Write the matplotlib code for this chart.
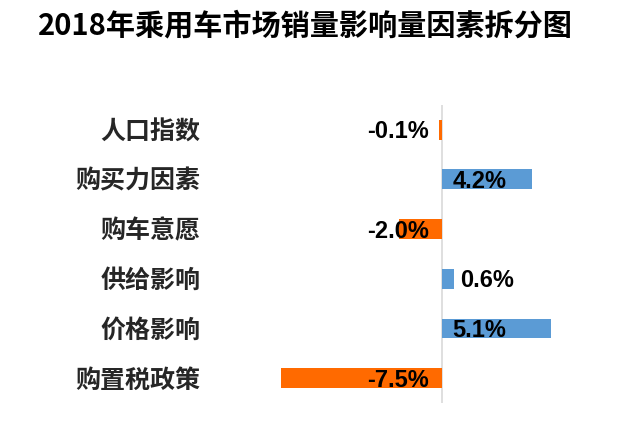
import matplotlib
matplotlib.use("Agg")
import matplotlib.pyplot as plt

plt.rcParams['font.family'] = ['Noto Sans CJK SC', 'DejaVu Sans']

title = "2018年乘用车市场销量影响量因素拆分图"
factors = ["人口指数", "购买力因素", "购车意愿", "供给影响", "价格影响", "购置税政策"]
impact = [-0.1, 4.2, -2.0, 0.6, 5.1, -7.5]

ORANGE = "#FF6A00"
BLUE = "#5B9BD5"

fig = plt.figure(figsize=(6.4, 4.26), dpi=100, facecolor="white")
ax = fig.add_axes([0.422, 0.054, 0.536, 0.70])

ypos = list(range(len(factors)))
colors = [BLUE if v > 0 else ORANGE for v in impact]
ax.barh(ypos, impact, height=0.4, color=colors)

ax.set_xlim(-8, 8)
ax.set_ylim(len(factors) - 0.5, -0.5)
ax.axvline(0, color="#d9d9d9", lw=1.2, zorder=0)

for s in ax.spines.values():
    s.set_visible(False)
ax.set_xticks([])
ax.set_yticks(ypos)
ax.set_yticklabels(factors, fontsize=18, fontweight="bold", color="#262626")
ax.tick_params(axis="y", length=0, pad=50)

# value labels: negatives sit left of zero, positives right of zero (or past a short bar)
for y, v in zip(ypos, impact):
    if v < 0:
        ax.text(-0.6, y + 0.04, f"{v:.1f}%", ha="right", va="center",
                fontsize=17, fontweight="bold", color="black",
                family=["Liberation Sans", "DejaVu Sans"])
    else:
        x = v + 0.25 if v < 1 else 0.5
        ax.text(x, y + 0.04, f"{v:.1f}%", ha="left", va="center",
                fontsize=17, fontweight="bold", color="black",
                family=["Liberation Sans", "DejaVu Sans"])

fig.text(0.06, 0.94, title, fontsize=21, fontweight="bold", color="black",
         ha="left", va="center")

fig.savefig("out.png", dpi=100)
